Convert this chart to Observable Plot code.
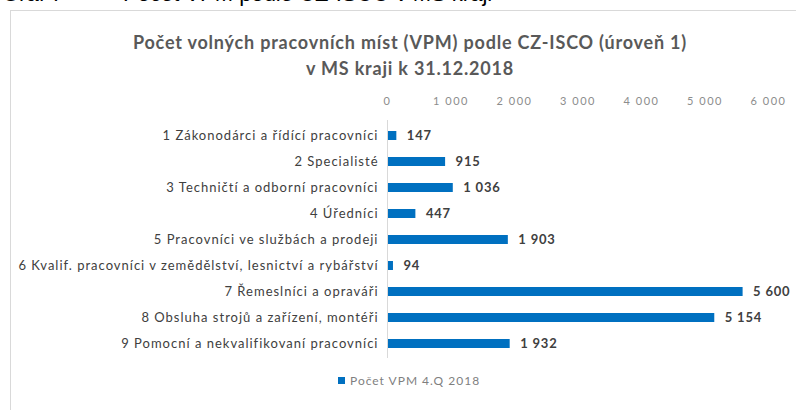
<!DOCTYPE html>
<html><head><meta charset="utf-8">
<script src="https://cdn.jsdelivr.net/npm/d3@7"></script>
<script src="https://cdn.jsdelivr.net/npm/@observablehq/plot@0.6"></script>
<style>
body{margin:0;width:796px;height:410px;overflow:hidden;position:relative;background:#fff;font-family:Lato,sans-serif;}
#hdr{position:absolute;left:2px;top:-19px;font-family:"Liberation Sans",Arial,sans-serif;font-size:22px;color:#000;white-space:nowrap;}
#hdr .t2{position:absolute;left:121px;top:0;}
#frame{position:absolute;left:10px;top:10px;width:820px;height:440px;border:1px solid #d9d9d9;}
#title{position:absolute;left:0;width:820px;top:29px;text-align:center;font-weight:bold;font-size:18px;letter-spacing:0.8px;color:#595959;line-height:26px;}
#chart{position:absolute;left:0;top:0;}
#legend{position:absolute;left:338px;top:373px;font-size:12px;letter-spacing:1px;color:#7f7f7f;display:flex;align-items:center;}
#legend span.sw{display:inline-block;width:7px;height:7px;background:#0070c0;margin-right:5px;}
.c g[aria-label="x-axis tick label"] text{letter-spacing:1.5px;}
.c g[aria-label="y-axis tick label"] text{letter-spacing:1px;}
.c g[aria-label="text"] text{letter-spacing:0.8px;}
</style></head>
<body>
<div id="hdr"><span>Graf 7</span><span class="t2">Počet VPM podle CZ-ISCO v MS kraji</span></div>
<div id="frame"></div>
<div id="title">Počet volných pracovních míst (VPM) podle CZ-ISCO (úroveň 1)<br>v MS kraji k 31.12.2018</div>
<div id="chart"></div>
<div id="legend"><span class="sw"></span>Počet VPM 4.Q 2018</div>
<script>
const categories = [
  "1 Zákonodárci a řídící pracovníci",
  "2 Specialisté",
  "3 Techničtí a odborní pracovníci",
  "4 Úředníci",
  "5 Pracovníci ve službách a prodeji",
  "6 Kvalif. pracovníci v zemědělství, lesnictví a rybářství",
  "7 Řemeslníci a opraváři",
  "8 Obsluha strojů a zařízení, montéři",
  "9 Pomocní a nekvalifikovaní pracovníci"
];
const values = [147, 915, 1036, 447, 1903, 94, 5600, 5154, 1932];
const xTicks = [0, 1000, 2000, 3000, 4000, 5000, 6000];

const data = categories.map((c, i) => ({cat: c, v: values[i]}));
const fmt = d => d3.format(",")(d).replace(/,/g, " ");

const chart = Plot.plot({
  className: "c",
  width: 796,
  height: 410,
  marginLeft: 387,
  marginRight: 28,
  marginTop: 120,
  marginBottom: 52,
  style: {fontFamily: "Lato, sans-serif", background: "transparent"},
  x: {domain: [0, 6000], label: null},
  y: {domain: categories, paddingInner: 0.66, paddingOuter: 0.33, label: null},
  marks: [
    Plot.axisX({anchor: "top", ticks: xTicks, tickFormat: fmt, tickSize: 0, tickPadding: 16, fontSize: 11, color: "#8c8c8c", label: null}),
    Plot.axisY({anchor: "left", tickSize: 0, tickPadding: 9, fontSize: 13, color: "#404040", label: null}),
    Plot.barX(data, {x: "v", y: "cat", fill: "#0070c0"}),
    Plot.ruleX([0], {stroke: "#d9d9d9", strokeWidth: 1}),
    Plot.text(data, {x: "v", y: "cat", text: d => fmt(d.v), textAnchor: "start", dx: 10, fontSize: 13, fontWeight: "bold", fill: "#404040"})
  ]
});
document.getElementById("chart").appendChild(chart);
</script>
</body></html>
